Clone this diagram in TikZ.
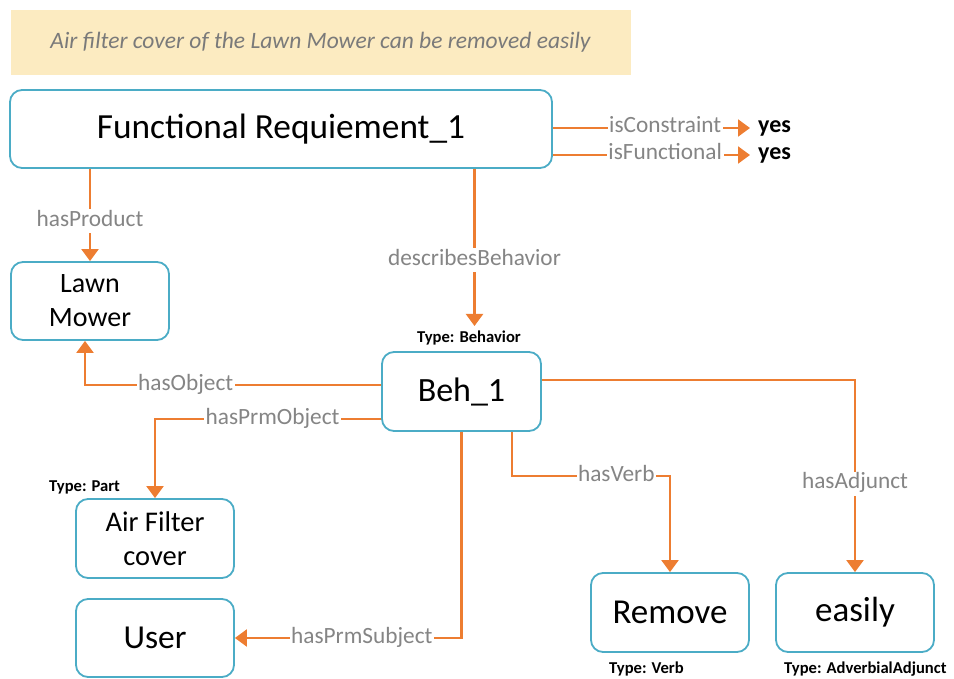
\documentclass[tikz,border=0pt]{standalone}
\usepackage{fontspec}
\setmainfont{Carlito}
\usetikzlibrary{arrows.meta,calc}
\definecolor{edgeorange}{HTML}{ED7D31}
\definecolor{boxblue}{HTML}{4BACC6}
\definecolor{lblgray}{HTML}{858585}
\definecolor{bannerfill}{HTML}{FCEBC1}
\definecolor{bannertext}{HTML}{7A7A7A}
\begin{document}
\begin{tikzpicture}[x=1pt,y=-1pt,
  box/.style={draw=boxblue,line width=1.8pt,rounded corners=12pt,fill=white,
    align=center,inner sep=0pt,minimum width=158pt,minimum height=78pt},
  rel/.style={draw=edgeorange,line width=2.2pt},
  arr/.style={rel,-{Triangle[length=12pt,width=17pt]}},
  lbl/.style={fill=white,text=lblgray,font=\fontsize{23.3}{25}\selectfont,
    inner sep=1.5pt,text height=15.5pt,text depth=5.5pt},
  yesval/.style={font=\bfseries\fontsize{24}{26}\selectfont,anchor=west,
    inner sep=0pt,text height=16pt,text depth=6pt},
  typelbl/.style={font=\bfseries\fontsize{16.6}{18}\selectfont,inner sep=0pt},
  ]
\useasboundingbox (0,0) rectangle (954,679);

% sentence banner
\node[fill=bannerfill,minimum width=620pt,minimum height=65pt,inner sep=0pt,
  text=bannertext,font=\itshape\fontsize{23.5}{26}\selectfont] (banner) at (320.5,42.5)
  {Air filter cover of the Lawn Mower can be removed easily};

% concept boxes
\node[box,minimum width=542pt,font=\fontsize{35.3}{40}\selectfont] (FR) at (281,129) {Functional Requiement\_1};
\node[box,font=\fontsize{28}{34}\selectfont] (LM) at (90,301) {Lawn\\Mower};
\node[box,minimum width=159pt,minimum height=79pt,font=\fontsize{34}{38}\selectfont] (Beh) at (461.5,391.5) {Beh\_1};
\node[box,minimum height=79pt,font=\fontsize{28.5}{34}\selectfont] (AF) at (155,538.5) {Air Filter\\cover};
\node[box,font=\fontsize{33.5}{38}\selectfont] (User) at (155,638) {User};
\node[box,minimum height=79pt,font=\fontsize{35}{40}\selectfont] (Remove) at (670,612.5) {Remove};
\node[box,minimum height=79pt,font=\fontsize{35}{40}\selectfont] (easily) at (855,612.5) {easily};

% attribute values
\node[yesval] (yes1) at (758,128) {yes};
\node[yesval] (yes2) at (758,155) {yes};

% type annotations
\node[typelbl,anchor=base] (typeBeh) at (469,343) {Type: Behavior};
\node[typelbl,anchor=base west] (typePart) at (49,491) {Type: Part};
\node[typelbl,anchor=base west] (typeVerb) at (609,673) {Type: Verb};
\node[typelbl,anchor=base west] (typeAdv) at (784,673) {Type: AdverbialAdjunct};

\coordinate (dbTip) at (474.5,326);

% relations
\draw[arr] (FR.east |- yes1.west) -- node[lbl,pos=0.57]{isConstraint} ([xshift=-8pt]yes1.west);
\draw[arr] (FR.east |- yes2.west) -- node[lbl,pos=0.57]{isFunctional} ([xshift=-8pt]yes2.west);
\draw[arr] (FR.south -| LM.north) -- node[lbl,pos=0.57]{hasProduct} (LM.north);
\draw[arr] (FR.south -| dbTip) -- node[lbl,pos=0.58]{describesBehavior} (dbTip);
\draw[arr] ([yshift=6.5pt]Beh.west) -| node[lbl,pos=0.33]{hasObject} ([xshift=-5pt]LM.south);
\draw[arr] ([yshift=-27.5pt]Beh.west) -| node[lbl,pos=0.24]{hasPrmObject} (AF.north);
\draw[arr] (Beh.south) |- node[lbl,pos=0.72]{hasPrmSubject} (User.east);
\draw[arr] ([xshift=50.5pt]Beh.south) |- node[lbl,pos=0.83]{hasVerb} ([yshift=96pt]Remove.north) -- (Remove.north);
\draw[arr] ([yshift=11.5pt]Beh.east) -| node[lbl,pos=0.77]{hasAdjunct} (easily.north);
\end{tikzpicture}
\end{document}
